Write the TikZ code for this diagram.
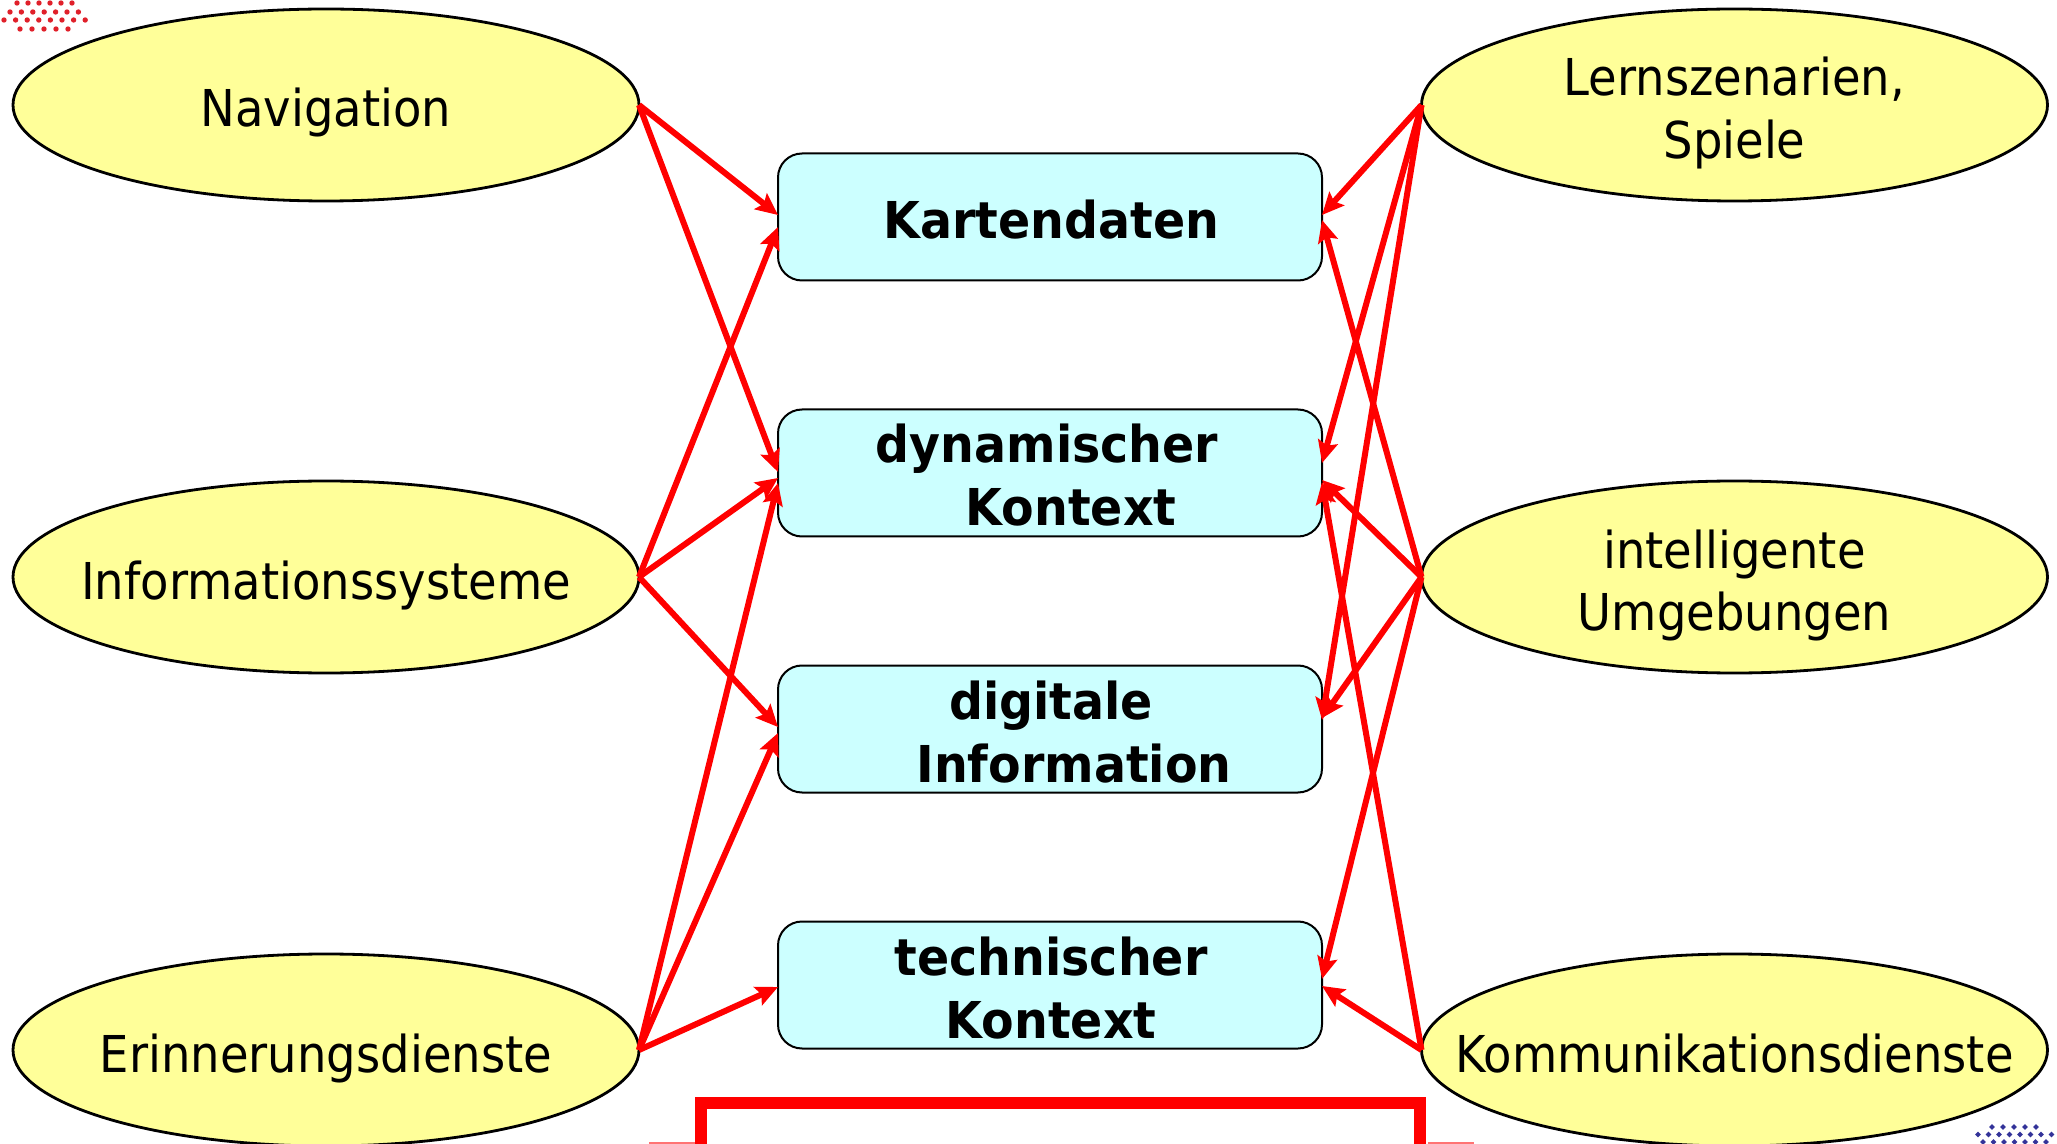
\documentclass[tikz,border=0pt]{standalone}
\usepackage{fontspec}
\setmainfont{DejaVu Sans}[FakeStretch=0.915,BoldFeatures={FakeStretch=0.935}]
\usetikzlibrary{shapes.geometric,arrows.meta,calc}
\definecolor{ellfill}{HTML}{FFFF99}
\definecolor{boxfill}{HTML}{CCFFFF}
\definecolor{linkred}{HTML}{FF0000}
\definecolor{dotred}{HTML}{E0202A}
\definecolor{dotblue}{HTML}{333399}
\definecolor{framered}{HTML}{FF0000}

\begin{document}
\begin{tikzpicture}[x=0.5pt,y=-0.5pt,
  topic/.style={ellipse, draw=black, line width=1.4pt, fill=ellfill,
    minimum width=313pt, minimum height=96pt, inner sep=0pt, outer sep=0pt},
  datum/.style={rectangle, rounded corners=12pt, draw=black, line width=1pt,
    fill=boxfill, minimum width=272pt, minimum height=63.5pt,
    inner sep=0pt, outer sep=0pt},
  topictext/.style={anchor=base, inner sep=0pt,
    font=\fontsize{25.4pt}{30pt}\selectfont},
  datatext/.style={anchor=base, inner sep=0pt,
    font=\fontsize{25.4pt}{30pt}\selectfont\bfseries},
  link/.style={draw=linkred, line width=3pt,
    -{Stealth[length=11pt,width=10pt,inset=2pt]}},
  reddot/.style={fill=dotred},
  bluedot/.style={fill=dotblue}
]
\useasboundingbox (0,0) rectangle (2057,1144);
\clip (0,0) rectangle (2057,1144);

% corner ornaments
\foreach \k in {0,...,5} \fill[reddot] (17+11*\k,3) circle[radius=1.35pt];
\foreach \k in {0,...,6} \fill[reddot] (10+11.4*\k,12) circle[radius=1.35pt];
\foreach \k in {0,...,7} \fill[reddot] (4+11.6*\k,20) circle[radius=1.35pt];
\foreach \k in {0,...,4} \fill[reddot] (20+12*\k,29) circle[radius=1.35pt];

\foreach \k in {0,...,4} \fill[bluedot] (1992+11*\k,1127) +(-2.8,0) -- +(0,-2.8) -- +(2.8,0) -- +(0,2.8) -- cycle;
\foreach \k in {0,...,7} \fill[bluedot] (1978+10.5*\k,1134.5) +(-2.8,0) -- +(0,-2.8) -- +(2.8,0) -- +(0,2.8) -- cycle;
\foreach \k in {0,...,6} \fill[bluedot] (1983+10.5*\k,1142) +(-2.8,0) -- +(0,-2.8) -- +(2.8,0) -- +(0,2.8) -- cycle;

% application areas (left and right)
\node[topic] (nav)   at (326,105)    {};
\node[topic] (info)  at (326,577)    {};
\node[topic] (erin)  at (326,1050)   {};
\node[topic] (lern)  at (1734.5,105) {};
\node[topic] (intel) at (1734.5,577) {};
\node[topic] (komm)  at (1734.5,1050){};

\node[topictext] (navT)   at ($(nav)+(0,22)$)    {Navigation};
\node[topictext] (infoT)  at ($(info)+(0,22)$)   {Informationssysteme};
\node[topictext] (erinT)  at ($(erin)+(0,22)$)   {Erinnerungsdienste};
\node[topictext] (lernA)  at ($(lern)+(0,-9)$)   {Lernszenarien,};
\node[topictext] (lernB)  at ($(lern)+(0,54)$)   {Spiele};
\node[topictext] (intelA) at ($(intel)+(0,-9)$)  {intelligente};
\node[topictext] (intelB) at ($(intel)+(0,54)$)  {Umgebungen};
\node[topictext] (kommT)  at ($(komm)+(0,22)$)   {Kommunikationsdienste};

% data sources (middle column)
\node[datum] (K) at (1050,217) {};
\node[datum] (D) at (1050,473) {};
\node[datum] (G) at (1050,729) {};
\node[datum] (T) at (1050,985) {};

\node[datatext] (KT) at ($(K)+(1.5,22)$)  {Kartendaten};
\node[datatext] (DA) at ($(D)+(-3,-10)$)  {dynamischer};
\node[datatext] (DB) at ($(D)+(21,53)$)   {Kontext};
\node[datatext] (GA) at ($(G)+(1,-10)$)   {digitale};
\node[datatext] (GB) at ($(G)+(24,53)$)   {Information};
\node[datatext] (TA) at ($(T)+(1,-10)$)   {technischer};
\node[datatext] (TB) at ($(T)+(1,53)$)    {Kontext};

% links from the left
\draw[link] (nav.east)  -- ($(K.west)+(0,-2)$);
\draw[link] (nav.east)  -- ($(D.west)+(0,-1)$);
\draw[link] (info.east) -- ($(K.west)+(0,10)$);
\draw[link] (info.east) -- ($(D.west)+(0,5)$);
\draw[link] (info.east) -- ($(G.west)+(0,-2)$);
\draw[link] (erin.east) -- ($(D.west)+(0,10)$);
\draw[link] (erin.east) -- ($(G.west)+(0,4)$);
\draw[link] (erin.east) -- ($(T.west)+(0,2)$);

% links from the right
\draw[link] (lern.west)  -- ($(K.east)+(0,-2)$);
\draw[link] (lern.west)  -- ($(D.east)+(0,-10)$);
\draw[link] (lern.west)  -- ($(G.east)+(0,-9)$);
\draw[link] (intel.west) -- ($(K.east)+(0,3)$);
\draw[link] (intel.west) -- ($(D.east)+(0,7)$);
\draw[link] (intel.west) -- ($(G.east)+(0,-11)$);
\draw[link] (intel.west) -- ($(T.east)+(0,-6)$);
\draw[link] (komm.west)  -- ($(D.east)+(0,9)$);
\draw[link] (komm.west)  -- ($(T.east)+(0,1)$);

% frame below the diagram
\draw[framered, line width=6pt, line join=miter] (701,1160) -- (701,1103) -- (1420,1103) -- (1420,1160);
\draw[framered!55, line width=1.2pt] (649,1143) -- (695,1143);
\draw[framered!55, line width=1.2pt] (1428,1143) -- (1474,1143);
\end{tikzpicture}
\end{document}
